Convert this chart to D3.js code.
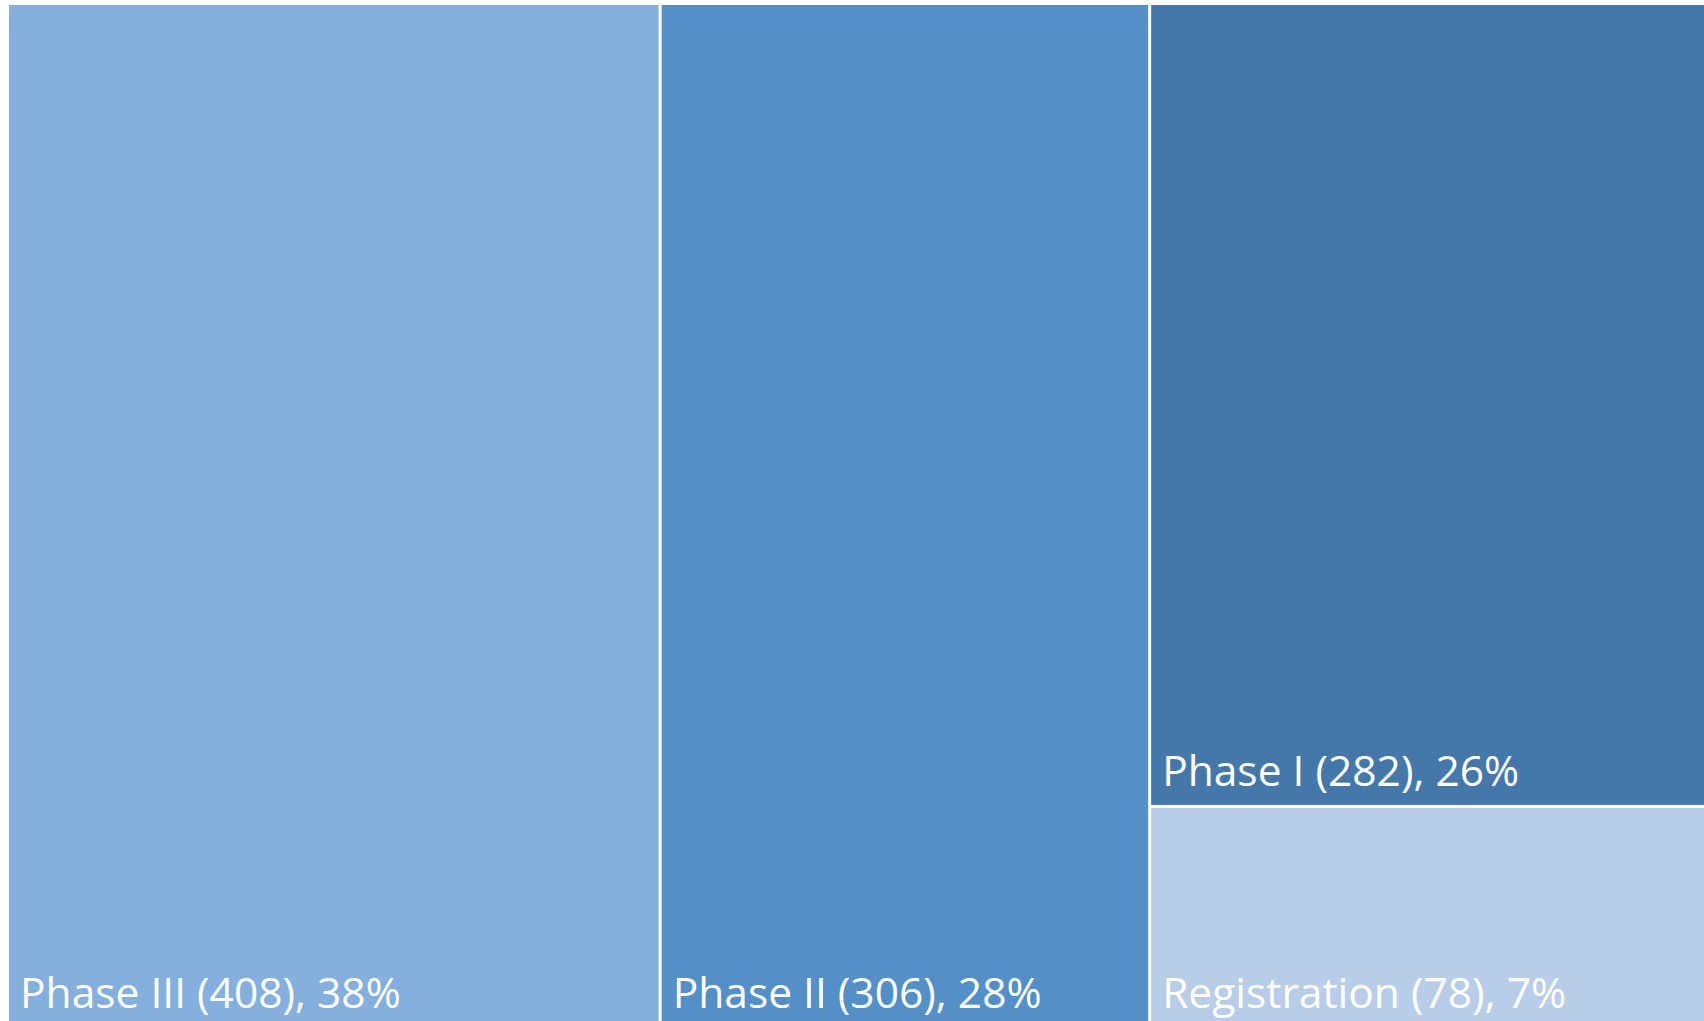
<!DOCTYPE html>
<html>
<head>
<meta charset="utf-8">
<script src="https://cdn.jsdelivr.net/npm/d3@7"></script>
<style>
  html, body { margin: 0; padding: 0; background: #fff; overflow: hidden; }
  svg { display: block; }
</style>
</head>
<body>
<div id="chart"></div>
<script>
// 各阶段名称与数量
const phases = ['Phase III', 'Phase II', 'Phase I', 'Registration'];
const counts = [408, 306, 282, 78];
const colors = ['#85afdc', '#548fc7', '#4578a8', '#b9cde8'];

const W = 1704, H = 1021;
// 图表区域比画面略大（右侧和底部被裁掉）
const area = { left: 9, top: 5, width: 1715, height: 1022 };

const svg = d3.select('#chart')
  .append('svg')
  .attr('width', W)
  .attr('height', H);

const total = d3.sum(counts);
const root = d3.hierarchy({
    children: phases.map((p, i) => ({ name: p, value: counts[i], color: colors[i] }))
  })
  .sum(d => d.value || 0)
  .sort((a, b) => b.value - a.value);

d3.treemap()
  .tile(d3.treemapBinary)
  .size([area.width, area.height])
  .paddingInner(3)
  .round(false)(root);

const g = svg.append('g').attr('transform', `translate(${area.left},${area.top})`);

const cell = g.selectAll('.cell')
  .data(root.leaves())
  .enter()
  .append('g')
  .attr('class', 'cell');

cell.append('rect')
  .attr('x', d => d.x0)
  .attr('y', d => d.y0)
  .attr('width', d => d.x1 - d.x0)
  .attr('height', d => d.y1 - d.y0)
  .attr('fill', d => d.data.color);

// 标签：左下角
cell.append('text')
  .attr('x', d => d.x0 + 11)
  .attr('y', d => d.y1 - 19)
  .style('font-family', '"Open Sans", "Noto Sans", sans-serif')
  .style('font-size', '42.5px')
  .style('fill', '#fff')
  .text(d => `${d.data.name} (${d.data.value}), ${Math.round(d.data.value / total * 100)}%`);
</script>
</body>
</html>
